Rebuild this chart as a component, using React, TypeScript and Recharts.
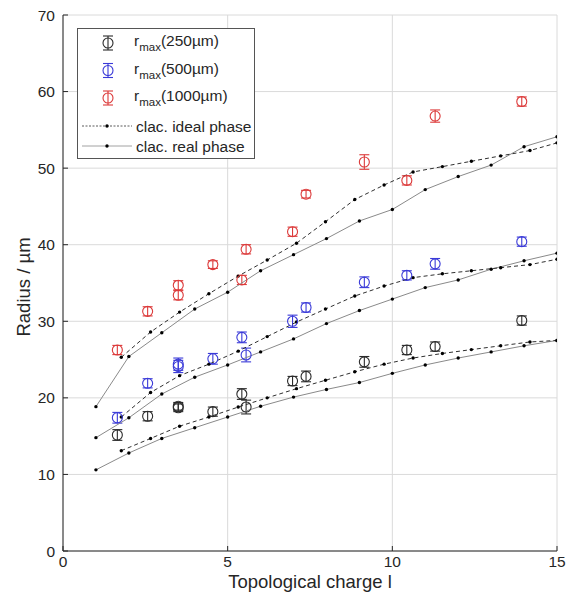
import React from "react";
import { ComposedChart, Scatter, ErrorBar, XAxis, YAxis, CartesianGrid, Legend } from "recharts";

const FONT = '"Liberation Sans", Arial, Helvetica, sans-serif';
const INK = "#262626";
const GRID = "#dadada";
const C250 = "#2b2b2b";
const C500 = "#3a3ad8";
const C1000 = "#dc3a3a";
const IDEAL = "#303030";
const REAL = "#8a8a8a";

// measured topological charges (two runs at l = 3.5)
const measuredL = [1.65, 2.57, 3.5, 3.5, 4.55, 5.43, 5.56, 6.97, 7.38, 9.15, 10.44, 11.3, 13.93];

const r250 = [15.15, 17.6, 18.9, 18.7, 18.2, 20.5, 18.8, 22.2, 22.8, 24.7, 26.25, 26.7, 30.1];
const r250Err = [0.7, 0.6, 0.5, 0.5, 0.6, 0.7, 0.9, 0.6, 0.7, 0.7, 0.6, 0.6, 0.6];

const r500 = [17.4, 21.9, 24.4, 24.1, 25.1, 27.9, 25.6, 30.0, 31.8, 35.1, 36.0, 37.5, 40.4];
const r500Err = [0.7, 0.6, 0.8, 0.8, 0.7, 0.7, 0.9, 0.8, 0.6, 0.7, 0.6, 0.7, 0.6];

const r1000 = [26.25, 31.3, 34.7, 33.4, 37.4, 35.4, 39.4, 41.7, 46.6, 50.8, 48.4, 56.8, 58.7];
const r1000Err = [0.6, 0.6, 0.6, 0.6, 0.5, 0.6, 0.6, 0.6, 0.5, 0.95, 0.6, 0.8, 0.6];

// simulated curves
const realL = [1, 2, 3, 4, 5, 6, 7, 8, 9, 10, 11, 12, 13, 14, 15];
const real250 = [10.6, 12.8, 14.7, 16.1, 17.5, 18.9, 20.1, 21.1, 22.0, 23.2, 24.3, 25.2, 26.0, 26.8, 27.5];
const real500 = [14.8, 17.4, 20.5, 22.7, 24.3, 26.0, 27.7, 29.7, 31.4, 32.9, 34.4, 35.4, 36.8, 37.9, 38.9];
const real1000 = [18.85, 25.4, 28.5, 31.6, 33.8, 36.6, 38.7, 40.8, 43.1, 44.6, 47.2, 48.9, 50.4, 52.8, 54.1];

const idealL = [1.77, 2.66, 3.54, 4.43, 5.32, 6.2, 7.09, 7.97, 8.86, 9.75, 10.63, 11.52, 12.4, 13.29, 14.18, 15.0];
const ideal250 = [13.1, 14.7, 16.3, 17.5, 18.8, 20.0, 21.2, 22.3, 23.4, 24.4, 25.2, 25.8, 26.3, 26.8, 27.3, 27.5];
const ideal500 = [17.5, 20.7, 22.9, 24.4, 26.1, 28.0, 29.9, 31.6, 33.3, 34.6, 35.7, 36.2, 36.6, 37.0, 37.4, 38.1];
const ideal1000 = [25.3, 28.6, 31.2, 33.6, 35.9, 38.0, 40.2, 43.0, 45.9, 47.8, 49.5, 50.2, 50.9, 51.6, 52.3, 53.3];

const xTicks = [0, 5, 10, 15];
const yTicks = [0, 10, 20, 30, 40, 50, 60, 70];

const toPoints = (xs: number[], ys: number[], errs?: number[]) =>
  xs.map((x, i) => ({ x, y: ys[i], err: errs ? errs[i] : 0 }));

const ring = (color: string) => (p: any) =>
  <circle cx={p.cx} cy={p.cy} r={5} fill="none" stroke={color} strokeWidth={1.1} />;

const dot = (p: any) => <circle cx={p.cx} cy={p.cy} r={1.7} fill="#000" />;

// matlab-style ticks pointing into the plot
const YTick = (p: any) => (
  <g>
    <line x1={p.x + 8} x2={p.x + 13} y1={p.y} y2={p.y} stroke={INK} />
    <text x={p.x} y={p.y} dy="0.36em" textAnchor="end" fontFamily={FONT} fontSize={15.5} fill={INK}>
      {p.payload.value}
    </text>
  </g>
);

const XTick = (p: any) => (
  <g>
    <line x1={p.x} x2={p.x} y1={p.y - 4} y2={p.y - 9} stroke={INK} />
    <text x={p.x} y={p.y} dy="0.78em" textAnchor="middle" fontFamily={FONT} fontSize={15.5} fill={INK}>
      {p.payload.value}
    </text>
  </g>
);

const legendRows = [
  { color: C250, label: "(250µm)" },
  { color: C500, label: "(500µm)" },
  { color: C1000, label: "(1000µm)" },
];

function LegendBox() {
  return (
    <svg width={178} height={131} style={{ display: "block" }}>
      <rect x={0.5} y={0.5} width={177} height={130} fill="#fff" stroke="#555" />
      {legendRows.map((r, i) => {
        const cy = 15 + i * 27.5;
        return (
          <g key={r.label}>
            <line x1={31} x2={31} y1={cy - 7} y2={cy + 7} stroke={r.color} strokeWidth={1.1} />
            <line x1={26} x2={36} y1={cy - 7} y2={cy - 7} stroke={r.color} strokeWidth={1.1} />
            <line x1={26} x2={36} y1={cy + 7} y2={cy + 7} stroke={r.color} strokeWidth={1.1} />
            <circle cx={31} cy={cy} r={5} fill="none" stroke={r.color} strokeWidth={1.1} />
            <text x={57} y={cy + 3} fontFamily={FONT} fontSize={15.5} fill={INK}>
              r
              <tspan dy={5} fontSize={11.5}>max</tspan>
              <tspan dy={-5}>{r.label}</tspan>
            </text>
          </g>
        );
      })}
      <line x1={5} x2={55} y1={98} y2={98} stroke={IDEAL} strokeWidth={0.8} strokeDasharray="2 1.5" />
      <circle cx={30} cy={98} r={1.7} fill="#000" />
      <text x={59} y={98} dy="0.36em" fontFamily={FONT} fontSize={15.5} fill={INK}>clac. ideal phase</text>
      <line x1={5} x2={55} y1={118} y2={118} stroke={REAL} strokeWidth={0.8} />
      <circle cx={30} cy={118} r={1.7} fill="#000" />
      <text x={59} y={118} dy="0.36em" fontFamily={FONT} fontSize={15.5} fill={INK}>clac. real phase</text>
    </svg>
  );
}

const yLabel = (props: any) => {
  const vb = props.viewBox;
  const cx = 25;
  const cy = vb.y + vb.height / 2 + 4;
  return (
    <text x={cx} y={cy} transform={`rotate(-90 ${cx} ${cy})`} textAnchor="middle" dominantBaseline="middle"
      fontFamily={FONT} fontSize={18.5} fill={INK}>
      Radius / µm
    </text>
  );
};

const xLabel = (props: any) => {
  const vb = props.viewBox;
  return (
    <text x={vb.x + vb.width / 2} y={588} textAnchor="middle" fontFamily={FONT} fontSize={18.5} fill={INK}>
      Topological charge l
    </text>
  );
};

export default function App() {
  return (
    <div style={{ position: "absolute", left: 0, top: 0, width: 574, height: 605, background: "#fff" }}>
      <ComposedChart width={574} height={605} margin={{ top: 15, right: 17, left: 0, bottom: 0 }}>
        <CartesianGrid stroke={GRID} />
        <XAxis type="number" dataKey="x" domain={[0, 15]} ticks={xTicks} height={54} tickSize={0} tickMargin={4}
          tickLine={false} axisLine={{ stroke: INK }} tick={<XTick />} label={xLabel} allowDataOverflow />
        <YAxis type="number" dataKey="y" domain={[0, 70]} ticks={yTicks} width={63} tickSize={0} tickMargin={8}
          tickLine={false} axisLine={{ stroke: INK }} tick={<YTick />} label={yLabel} allowDataOverflow />

        <Scatter data={toPoints(realL, real250)} line={{ stroke: REAL, strokeWidth: 1 }} shape={dot} isAnimationActive={false} />
        <Scatter data={toPoints(realL, real500)} line={{ stroke: REAL, strokeWidth: 1 }} shape={dot} isAnimationActive={false} />
        <Scatter data={toPoints(realL, real1000)} line={{ stroke: REAL, strokeWidth: 1 }} shape={dot} isAnimationActive={false} />
        <Scatter data={toPoints(idealL, ideal250)} line={{ stroke: IDEAL, strokeWidth: 1, strokeDasharray: "4 3" }} shape={dot} isAnimationActive={false} />
        <Scatter data={toPoints(idealL, ideal500)} line={{ stroke: IDEAL, strokeWidth: 1, strokeDasharray: "4 3" }} shape={dot} isAnimationActive={false} />
        <Scatter data={toPoints(idealL, ideal1000)} line={{ stroke: IDEAL, strokeWidth: 1, strokeDasharray: "4 3" }} shape={dot} isAnimationActive={false} />

        <Scatter data={toPoints(measuredL, r250, r250Err)} shape={ring(C250)} isAnimationActive={false}>
          <ErrorBar dataKey="err" direction="y" width={5} stroke={C250} strokeWidth={1.1} />
        </Scatter>
        <Scatter data={toPoints(measuredL, r500, r500Err)} shape={ring(C500)} isAnimationActive={false}>
          <ErrorBar dataKey="err" direction="y" width={5} stroke={C500} strokeWidth={1.1} />
        </Scatter>
        <Scatter data={toPoints(measuredL, r1000, r1000Err)} shape={ring(C1000)} isAnimationActive={false}>
          <ErrorBar dataKey="err" direction="y" width={5} stroke={C1000} strokeWidth={1.1} />
        </Scatter>

        <Legend layout="vertical" align="center" verticalAlign="middle"
          wrapperStyle={{ left: 77, top: 28, width: 178, height: 131 }} content={() => <LegendBox />} />
      </ComposedChart>
    </div>
  );
}
